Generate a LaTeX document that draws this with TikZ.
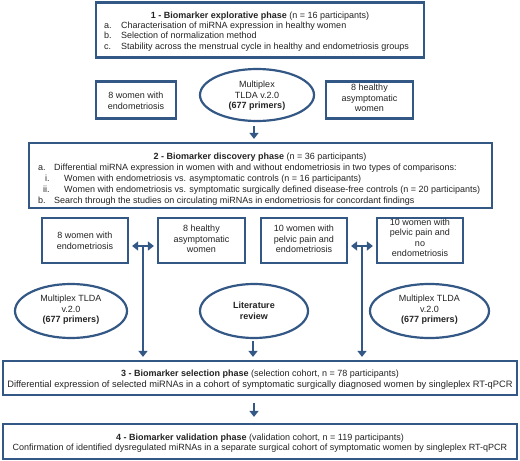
\documentclass[tikz,border=0pt]{standalone}
\usepackage{fontspec}
\setmainfont{Liberation Sans}
\usetikzlibrary{arrows.meta,shapes.geometric}
\definecolor{bblue}{RGB}{52,88,134}
\definecolor{tgray}{RGB}{35,35,35}
\begin{document}
\begin{tikzpicture}[x=1pt,y=-1pt,
  font=\fontsize{9}{10.5}\selectfont, text=tgray,
  box/.style={draw=bblue,line width=2.2pt,inner sep=0pt},
  ell/.style={draw=bblue,line width=2.2pt,ellipse,inner sep=0pt},
  ln/.style={inner sep=0pt,anchor=base west},
  lc/.style={inner sep=0pt,anchor=base},
  sm/.style={align=center,inner sep=0pt},
  arr/.style={draw=bblue,line width=2.6pt,-{Triangle[width=9pt,length=6pt]}},
  darr/.style={draw=bblue,line width=2.6pt,{Triangle[width=9pt,length=6pt]}-{Triangle[width=9pt,length=6pt]}},
  vl/.style={draw=bblue,line width=2.6pt}]
\useasboundingbox (0,0) rectangle (520,461);
% Box 1
\node[box,minimum width=328pt,minimum height=55pt] (b1) at (260,30) {};
\node[lc] (t1) at (260,18) {\textbf{1 - Biomarker explorative phase} (n = 16 participants)};
\node[ln] (t1a) at (104,28.5) {a.};
\node[ln] (t1at) at (121,28.5) {Characterisation of miRNA expression in healthy women};
\node[ln] (t1b) at (104,38.5) {b.};
\node[ln] (t1bt) at (121,38.5) {Selection of normalization method};
\node[ln] (t1c) at (104,49.5) {c.};
\node[ln] (t1ct) at (121,49.5) {Stability across the menstrual cycle in healthy and endometriosis groups};
% row 1
\node[box,minimum width=80pt,minimum height=37pt] (e1) at (136,100) {};
\node[sm] (e1t) at (136,101) {8 women with\\endometriosis};
\node[ell,minimum width=114pt,minimum height=52pt] (m1) at (257,95) {};
\node[sm] (m1t) at (257,96) {Multiplex\\TLDA v.2.0\\\textbf{(677 primers)}};
\node[box,minimum width=87pt,minimum height=37pt] (h1) at (369.5,100) {};
\node[sm] (h1t) at (369.5,98) {8 healthy\\asymptomatic\\women};
% Box 2
\node[box,minimum width=463pt,minimum height=65pt] (b2) at (260.5,175.5) {};
\node[lc] (t2) at (260,159) {\textbf{2 - Biomarker discovery phase} (n = 36 participants)};
\node[ln] (t2a) at (38,170) {a.};
\node[ln] (t2at) at (54,170) {Differential miRNA expression in women with and without endometriosis in two types of comparisons:};
\node[ln] (t2i) at (45,181) {i.};
\node[ln] (t2it) at (64,181) {Women with endometriosis vs. asymptomatic controls (n = 16 participants)};
\node[ln] (t2ii) at (43,192) {ii.};
\node[ln] (t2iit) at (64,192) {Women with endometriosis vs. symptomatic surgically defined disease-free controls (n = 20 participants)};
\node[ln] (t2b) at (38,203) {b.};
\node[ln] (t2bt) at (54,203) {Search through the studies on circulating miRNAs in endometriosis for concordant findings};
\draw[arr] ([xshift=-3pt,yshift=-4pt]m1.south) -- ([xshift=-3pt,yshift=3pt]m1.south|-b2.north);
% row 2
\node[box,minimum width=86pt,minimum height=45pt] (ra) at (85,240.5) {};
\node[sm] (rat) at (85,241) {8 women with\\endometriosis};
\node[box,minimum width=87pt,minimum height=45pt] (rb) at (201.5,240.5) {};
\node[sm] (rbt) at (201.5,239) {8 healthy\\asymptomatic\\women};
\node[box,minimum width=86pt,minimum height=45pt] (rc) at (304,240.5) {};
\node[sm] (rct) at (304,239) {10 women with\\pelvic pain and\\endometriosis};
\node[box,minimum width=86pt,minimum height=45pt] (rd) at (420,240.5) {};
\node[sm] (rdt) at (420,238) {10 women with\\pelvic pain and\\no\\endometriosis};
\coordinate (jl) at (143,246);
\coordinate (jr) at (362,246);
\draw[darr] ([xshift=3pt]ra.east|-jl) -- ([xshift=-3pt]rb.west|-jl);
\draw[darr] ([xshift=3pt]rc.east|-jr) -- ([xshift=-3pt]rd.west|-jr);
% ellipses
\node[ell,minimum width=112pt,minimum height=54pt] (el) at (71,311) {};
\node[sm] (elt) at (71,310) {Multiplex TLDA\\v.2.0\\\textbf{(677 primers)}};
\node[ell,minimum width=108pt,minimum height=54pt] (em) at (254,311) {};
\node[sm] (emt) at (254,311) {\textbf{Literature}\\\textbf{review}};
\node[ell,minimum width=119pt,minimum height=54pt] (er) at (429.5,311) {};
\node[sm] (ert) at (429.5,310) {Multiplex TLDA\\v.2.0\\\textbf{(677 primers)}};
% Box 3
\node[box,minimum width=514pt,minimum height=34pt] (b3) at (260,378) {};
\node[lc] (t3) at (260,376.5) {\textbf{3 - Biomarker selection phase} (selection cohort, n = 78 participants)};
\node[lc,font=\fontsize{9.3}{10}\selectfont] (t3b) at (260,387.5) {Differential expression of selected miRNAs in a cohort of symptomatic surgically diagnosed women by singleplex RT-qPCR};
\draw[vl] (jl) -- ([yshift=10pt]b3.north-|jl) coordinate (jlb);
\draw[arr] (jlb) -- ([yshift=3pt]b3.north-|jl);
\draw[vl] (jr) -- ([yshift=10pt]b3.north-|jr) coordinate (jrb);
\draw[arr] (jrb) -- ([yshift=3pt]b3.north-|jr);
\draw[arr] ([xshift=-1pt,yshift=-2pt]em.south) -- ([xshift=-1pt,yshift=3pt]b3.north-|em);
% Box 4
\node[box,minimum width=514pt,minimum height=35pt] (b4) at (260,441.5) {};
\node[lc] (t4) at (260,440) {\textbf{4 - Biomarker validation phase} (validation cohort, n = 119 participants)};
\node[lc] (t4b) at (260,450.5) {Confirmation of identified dysregulated miRNAs in a separate surgical cohort of symptomatic women by singleplex RT-qPCR};
\draw[arr] ([xshift=-6pt,yshift=-7pt]b3.south) -- ([xshift=-6pt,yshift=6pt]b4.north);
\end{tikzpicture}
\end{document}
